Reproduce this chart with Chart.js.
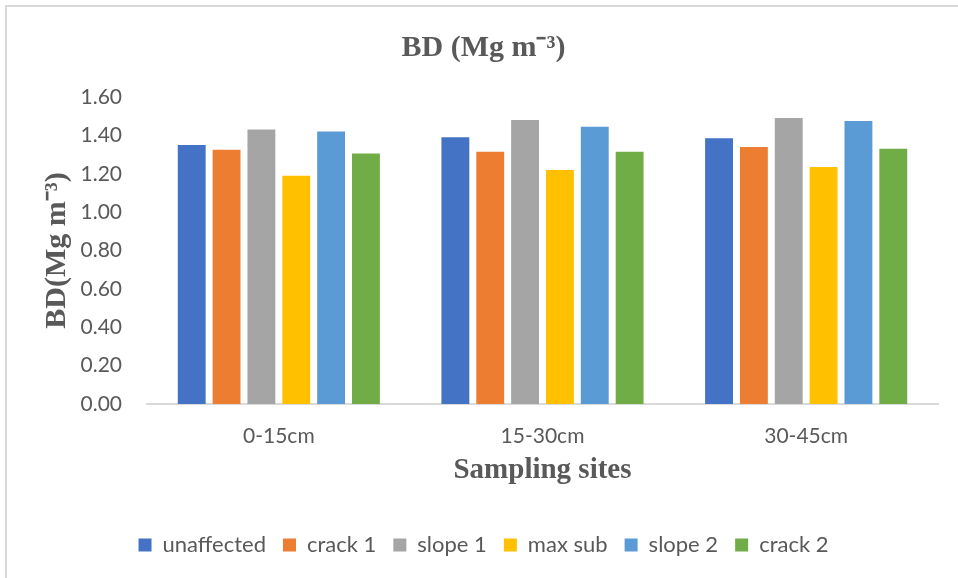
<!DOCTYPE html>
<html>
<head>
<meta charset="utf-8">
<script src="https://cdn.jsdelivr.net/npm/chart.js@4.4.0/dist/chart.umd.min.js"></script>
<style>
  html, body { margin: 0; padding: 0; background: #fff; }
  #wrap { width: 958px; height: 578px; }
</style>
</head>
<body>
<div id="wrap"><canvas id="myChart" width="958" height="578"></canvas></div>
<script>
const sites = ["0-15cm", "15-30cm", "30-45cm"];
const seriesNames = ["unaffected", "crack 1", "slope 1", "max sub", "slope 2", "crack 2"];
const unaffected = [1.35, 1.39, 1.385];
const crack1 = [1.325, 1.315, 1.34];
const slope1 = [1.43, 1.48, 1.49];
const maxSub = [1.19, 1.22, 1.235];
const slope2 = [1.42, 1.445, 1.475];
const crack2 = [1.305, 1.315, 1.33];
const yTicks = [0, 0.2, 0.4, 0.6, 0.8, 1.0, 1.2, 1.4, 1.6];

const colors = ["#4472C4", "#ED7D31", "#A5A5A5", "#FFC000", "#5B9BD5", "#70AD47"];
const values = [unaffected, crack1, slope1, maxSub, slope2, crack2];
const textColor = "#595959";
const sans = "Lato, 'Liberation Sans', sans-serif";
const serif = "'Liberation Serif', 'Times New Roman', serif";

// light frame on the left and top, like the exported chart box
const framePlugin = {
  id: "frame",
  beforeDraw(chart) {
    const c = chart.ctx;
    c.save();
    c.fillStyle = "#fff";
    c.fillRect(0, 0, chart.width, chart.height);
    c.strokeStyle = "#d9d9d9";
    c.lineWidth = 2;
    c.beginPath();
    c.moveTo(6, chart.height);
    c.lineTo(6, 6);
    c.lineTo(chart.width, 6);
    c.stroke();
    c.restore();
  },
};

new Chart(document.getElementById("myChart"), {
  type: "bar",
  data: {
    labels: sites,
    datasets: seriesNames.map((name, i) => ({
      label: name,
      data: values[i],
      backgroundColor: colors[i],
      borderWidth: 0,
      categoryPercentage: 0.793,
      barPercentage: 0.8,
    })),
  },
  options: {
    responsive: false,
    animation: false,
    layout: { padding: { left: 29, right: 20, top: 30, bottom: 12 } },
    scales: {
      x: {
        afterFit: (s) => { s.height = 113; },
        grid: { display: false },
        border: { display: true, color: "#d9d9d9", width: 2 },
        ticks: { color: textColor, font: { family: sans, size: 21 }, padding: 12 },
        title: {
          display: true,
          text: "Sampling sites",
          color: textColor,
          font: { family: serif, size: 29, weight: "bold" },
          padding: { top: 0, bottom: 29 },
        },
      },
      y: {
        min: 0,
        max: 1.6,
        afterFit: (s) => { s.width = 118; },
        afterBuildTicks: (s) => { s.ticks = yTicks.map((v) => ({ value: v })); },
        grid: { display: false },
        border: { display: false },
        ticks: {
          color: textColor,
          font: { family: sans, size: 21 },
          padding: 17,
          callback: (v) => Number(v).toFixed(2),
        },
        title: {
          display: true,
          text: "BD(Mg m\u207B\u00B3)",
          color: textColor,
          font: { family: serif, size: 30, weight: "bold" },
          padding: { top: 10, bottom: 0 },
        },
      },
    },
    plugins: {
      title: {
        display: true,
        text: "BD (Mg m\u207B\u00B3)",
        color: textColor,
        font: { family: serif, size: 30, weight: "bold" },
        padding: { top: 0, bottom: 31 },
      },
      legend: {
        position: "bottom",
        labels: {
          color: textColor,
          font: { family: sans, size: 22 },
          boxWidth: 13,
          boxHeight: 13,
          padding: 17,
        },
      },
      tooltip: { enabled: false },
    },
  },
  plugins: [framePlugin],
});
</script>
</body>
</html>
